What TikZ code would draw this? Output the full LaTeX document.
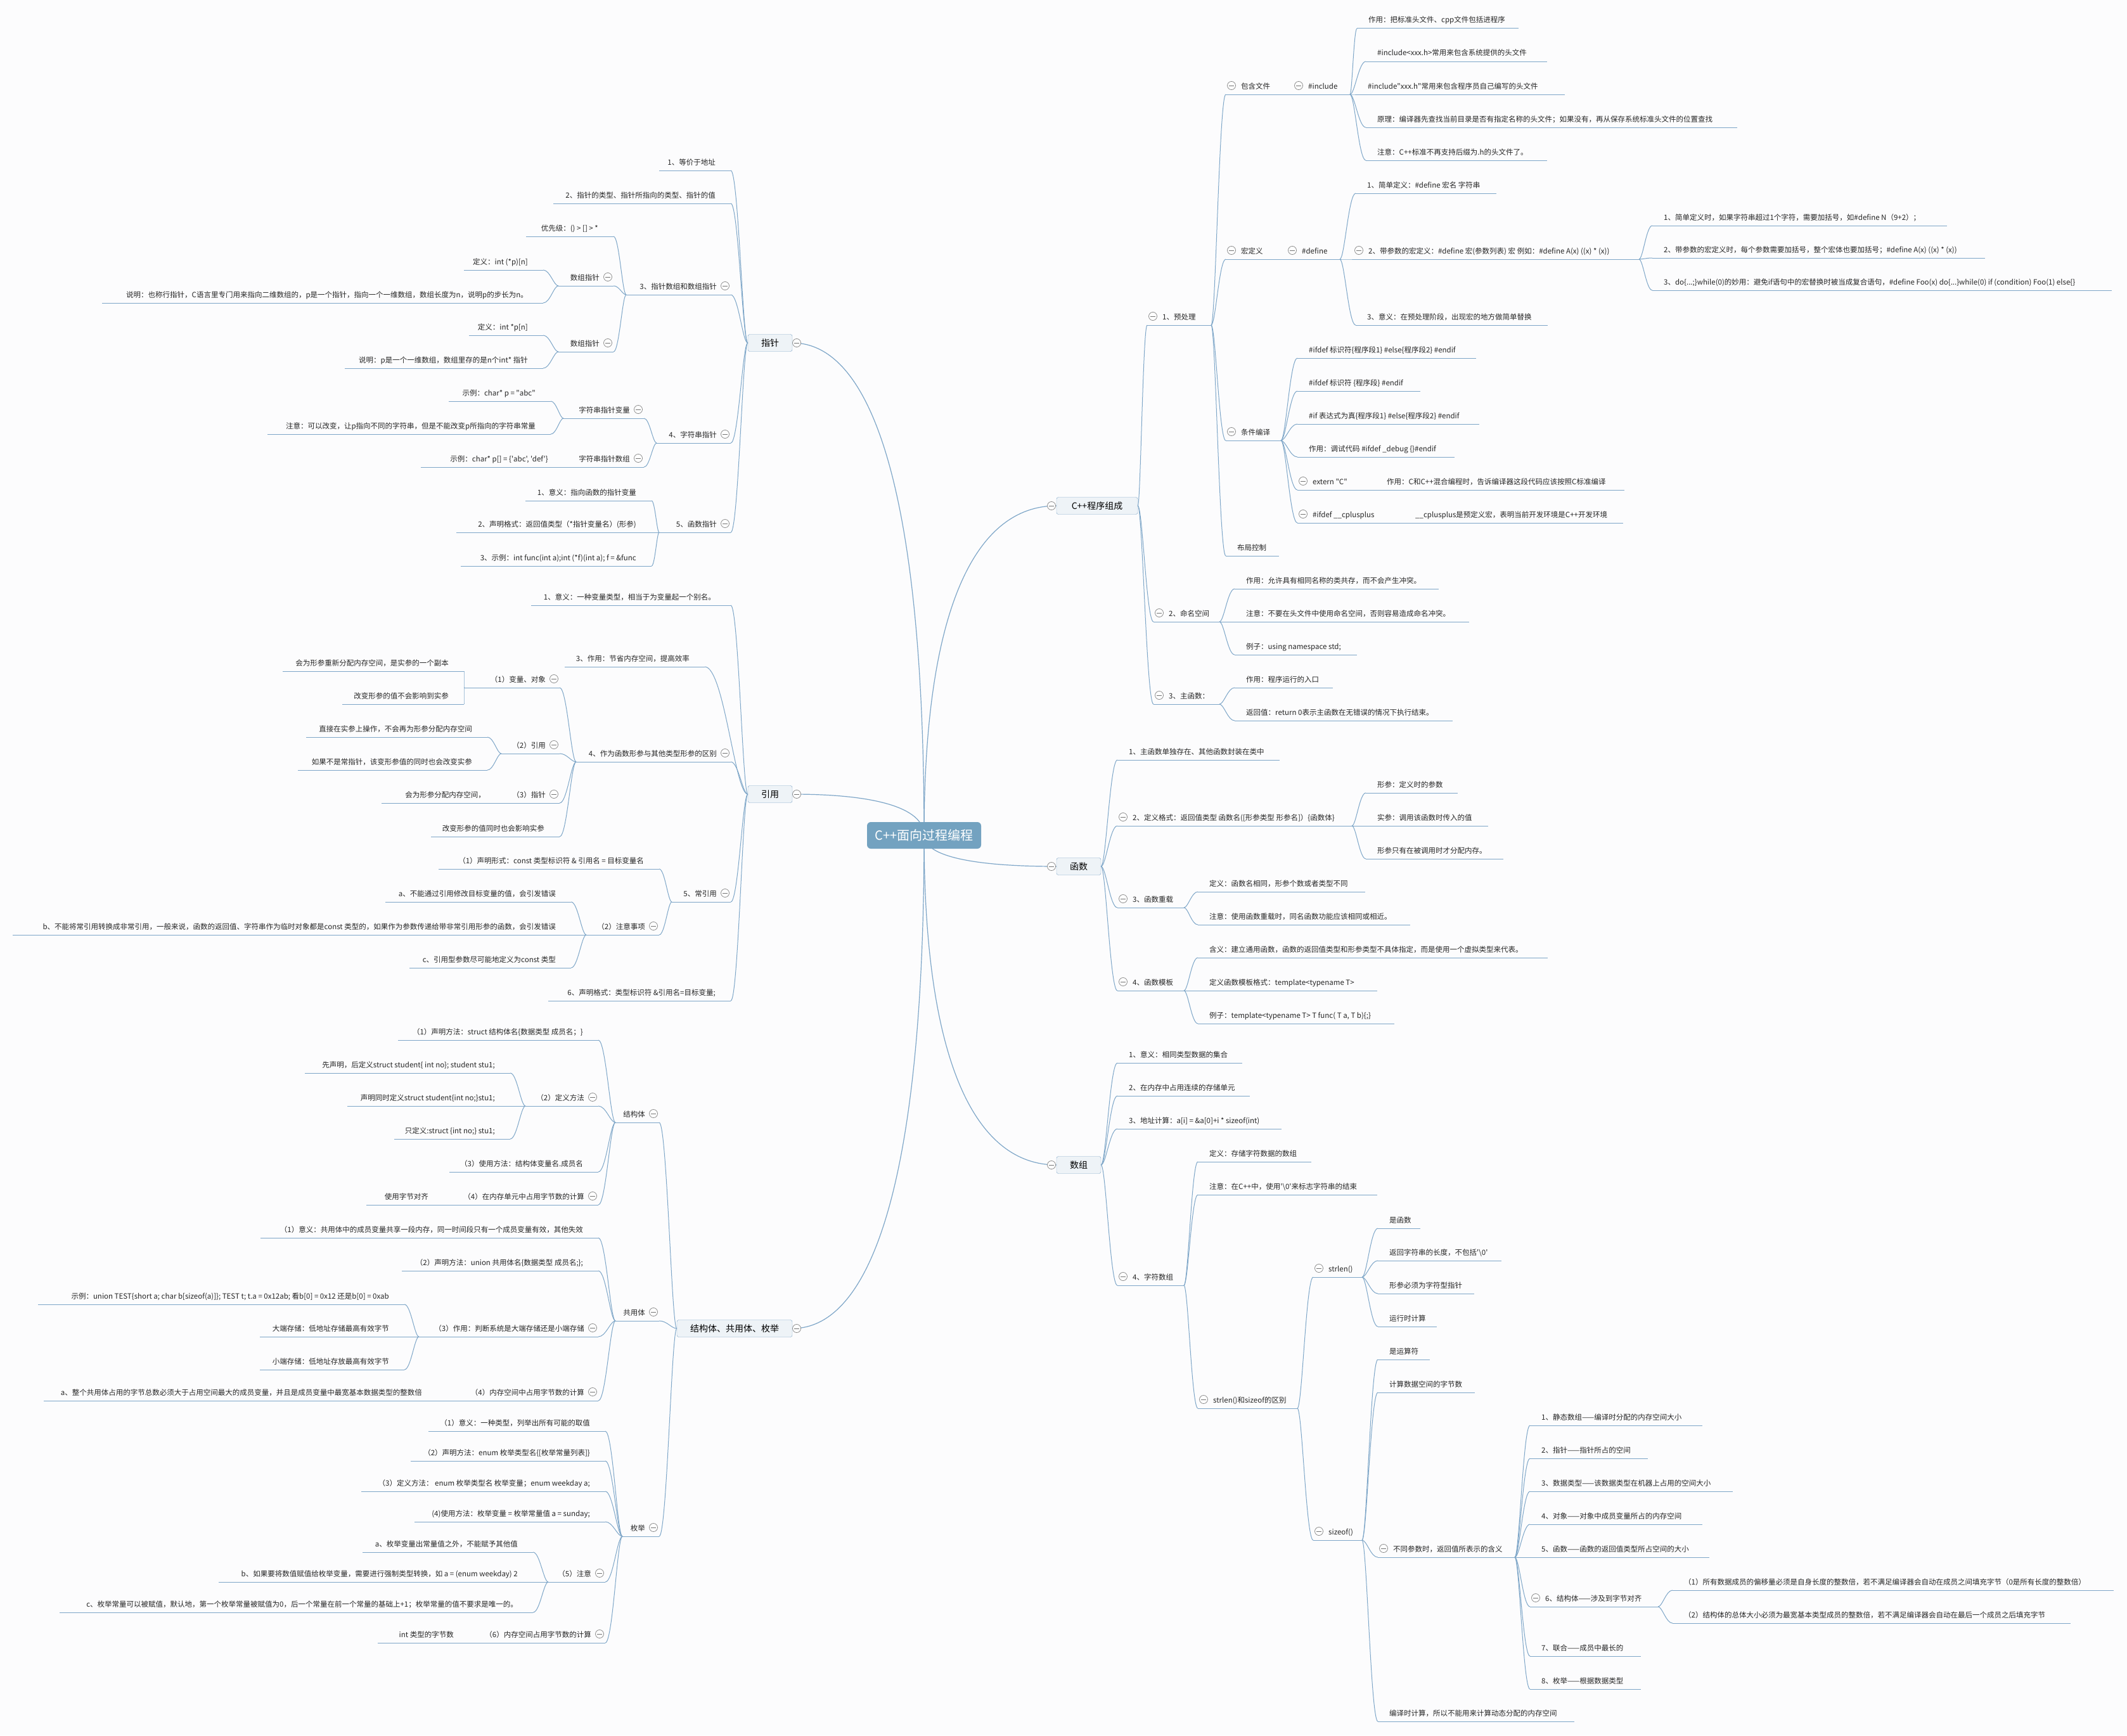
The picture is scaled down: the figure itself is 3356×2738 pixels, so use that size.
\documentclass[tikz,border=0pt]{standalone}
\usepackage{fontspec}
\setmainfont{Noto Sans CJK SC}[Ligatures=TeXOff]
\usetikzlibrary{calc,backgrounds}
\definecolor{lc}{HTML}{7EA6C8}
\definecolor{bxf}{HTML}{EEF3F7}
\definecolor{rootf}{HTML}{73A2C0}
\definecolor{bgc}{HTML}{FCFCFD}
\tikzset{
  ul/.style={lc,line width=1pt},
  cl/.style={lc,line width=1pt},
  tx/.style={inner sep=0pt,font=\fontsize{11.5}{13}\selectfont,text=black!85},
  bx/.style={draw=lc,fill=bxf,rounded corners=3pt,minimum height=27pt,inner xsep=10pt,inner ysep=0pt,font=\fontsize{14}{16}\selectfont},
  mc/.style={draw=black!45,fill=white,line width=0.8pt},
  mcl/.style={black!55,line width=0.8pt},
}
\newcommand\mn[2]{\draw[mc] (#1,#2) circle[radius=6.5]; \draw[mcl] (#1-4,#2)--(#1+4,#2);}
\newcommand\RI[5]{\coordinate (#1-l) at (#2,#4);\coordinate (#1-r) at (#3,#4);\draw[ul] (#1-l)--(#1-r);\node[tx,anchor=base west] (#1) at (#2+18,#4-9) {#5};}
\newcommand\RC[5]{\coordinate (#1-l) at (#2,#4);\coordinate (#1-r) at (#3,#4);\draw[ul] (#1-l)--(#1-r);\mn{#2+9}{#4-14}\node[tx,anchor=base west] (#1) at (#2+24,#4-9) {#5};}
\newcommand\LI[5]{\coordinate (#1-l) at (#2,#4);\coordinate (#1-r) at (#3,#4);\draw[ul] (#1-l)--(#1-r);\node[tx,anchor=base east] (#1) at (#3-24,#4-9) {#5};}
\newcommand\LC[5]{\coordinate (#1-l) at (#2,#4);\coordinate (#1-r) at (#3,#4);\draw[ul] (#1-l)--(#1-r);\mn{#3-9}{#4-14}\node[tx,anchor=base east] (#1) at (#3-22,#4-9) {#5};}
\newcommand\cn[2]{\draw[cl] (#1) .. controls ($(#1)!0.3!(#1-|#2)$) and ($(#2)!0.45!(#2-|#1)$) .. (#2);}
\newcommand\rcn[2]{\draw[cl,line width=1.2pt] (#1) .. controls ($(#1)!0.7!(#1|-#2)$) and ($(#2)!0.6!(#2-|#1)$) .. (#2);}
\begin{document}
\begin{tikzpicture}[x=1pt,y=-1pt]
\begin{pgfonlayer}{background}
\fill[bgc] (0,0) rectangle (3356,2738);
\end{pgfonlayer}
\useasboundingbox (0,0) rectangle (3356,2738);
% root
\node[fill=rootf,rounded corners=6pt,minimum width=180pt,minimum height=42pt,text=white,font=\fontsize{20}{22}\selectfont] (root) at (1458,1318) {C++面向过程编程};
% main boxes
\node[bx,minimum width=70pt] (zz) at (1215,541) {指针};
\node[bx,minimum width=70pt] (yy) at (1215,1253) {引用};
\node[bx,minimum width=182pt] (ss) at (1159,2096) {结构体、共用体、枚举};
\node[bx,minimum width=128pt] (cc) at (1731,798) {C++程序组成};
\node[bx,minimum width=70pt] (ff) at (1702,1367) {函数};
\node[bx,minimum width=70pt] (aa) at (1702,1838) {数组};
\begin{pgfonlayer}{background}
\rcn{root.center}{zz.east}
\rcn{root.center}{yy.east}
\rcn{root.center}{ss.east}
\rcn{root.center}{cc.west}
\rcn{root.center}{ff.west}
\rcn{root.center}{aa.west}
\end{pgfonlayer}
\mn{1257}{541}\mn{1257}{1253}\mn{1257}{2096}\mn{1659}{798}\mn{1659}{1367}\mn{1659}{1838}
% ===== 指针
\LI{p1}{1040}{1153}{269}{1、等价于地址}
\LI{p2}{873}{1153}{321}{2、指针的类型、指针所指向的类型、指针的值}
\LC{p3}{988}{1153}{465}{3、指针数组和数组指针}
\LI{p31}{830}{968}{373}{优先级：() > [] > *}
\LC{p32}{881}{968}{451}{数组指针}
\LI{p321}{732}{857}{426}{定义：int (*p)[n]}
\LI{p322}{161}{857}{478}{说明：也称行指针，C语言里专门用来指向二维数组的，p是一个指针，指向一个一维数组，数组长度为n，说明p的步长为n。}
\LC{p33}{881}{968}{555}{数组指针}
\LI{p331}{740}{857}{529}{定义：int *p[n]}
\LI{p332}{544}{857}{581}{说明：p是一个一维数组，数组里存的是n个int* 指针}
\LC{p4}{1036}{1153}{699}{4、字符串指针}
\LC{p41}{889}{1016}{660}{字符串指针变量}
\LI{p411}{708}{869}{633}{示例：char* p = "abc"}
\LI{p412}{422}{869}{685}{注意：可以改变，让p指向不同的字符串，但是不能改变p所指向的字符串常量}
\LC{p42}{889}{1016}{737}{字符串指针数组}
\LI{p421}{664}{889}{737}{示例：char* p[] = \{'abc', 'def'\}}
\LC{p5}{1040}{1153}{840}{5、函数指针}
\LI{p51}{829}{1028}{790}{1、意义：指向函数的指针变量}
\LI{p52}{720}{1028}{840}{2、声明格式：返回值类型（*指针变量名）(形参)}
\LI{p53}{727}{1028}{893}{3、示例：int func(int a);int (*f)(int a); f = \&func}
\foreach \c in {p1,p2,p3,p4,p5}{\cn{zz.west}{\c-r}}
\foreach \c in {p31,p32,p33}{\cn{p3-l}{\c-r}}
\foreach \c in {p321,p322}{\cn{p32-l}{\c-r}}
\foreach \c in {p331,p332}{\cn{p33-l}{\c-r}}
\foreach \c in {p41,p42}{\cn{p4-l}{\c-r}}
\foreach \c in {p411,p412}{\cn{p41-l}{\c-r}}
\foreach \c in {p51,p52,p53}{\cn{p5-l}{\c-r}}
% ===== 引用
\LI{r1}{838}{1153}{955}{1、意义：一种变量类型，相当于为变量起一个别名。}
\LI{r3}{891}{1112}{1052}{3、作用：节省内存空间，提高效率}
\LC{r4}{909}{1153}{1202}{4、作为函数形参与其他类型形参的区别}
\LC{r41}{732}{883}{1085}{（1）变量、对象}
\LI{r411}{446}{732}{1059}{会为形参重新分配内存空间，是实参的一个副本}
\LI{r412}{540}{732}{1111}{改变形参的值不会影响到实参}
\LC{r42}{791}{883}{1189}{（2）引用}
\LI{r421}{483}{769}{1163}{直接在实参上操作，不会再为形参分配内存空间}
\LI{r422}{470}{769}{1215}{如果不是常指针，该变形参值的同时也会改变实参}
\LC{r43}{790}{883}{1267}{（3）指针}
\LI{r431}{602}{790}{1267}{会为形参分配内存空间，}
\LI{r44}{680}{883}{1320}{改变形参的值同时也会影响实参}
\LC{r5}{1060}{1153}{1423}{5、常引用}
\LI{r51}{692}{1040}{1371}{（1）声明形式：const 类型标识符 \& 引用名 = 目标变量名}
\LC{r52}{925}{1040}{1475}{（2）注意事项}
\LI{r521}{608}{901}{1423}{a、不能通过引用修改目标变量的值，会引发错误}
\LI{r522}{20}{901}{1475}{b、不能将常引用转换成非常引用，一般来说，函数的返回值、字符串作为临时对象都是const 类型的，如果作为参数传递给带非常引用形参的函数，会引发错误}
\LI{r523}{646}{901}{1527}{c、引用型参数尽可能地定义为const 类型}
\LI{r6}{865}{1153}{1579}{6、声明格式：类型标识符 \&引用名=目标变量;}
\foreach \c in {r1,r3,r4,r5,r6}{\cn{yy.west}{\c-r}}
\foreach \c in {r41,r42,r43,r44}{\cn{r4-l}{\c-r}}
\foreach \c in {r411,r412}{\cn{r41-l}{\c-r}}
\foreach \c in {r421,r422}{\cn{r42-l}{\c-r}}
\foreach \c in {r51,r52}{\cn{r5-l}{\c-r}}
\foreach \c in {r521,r522,r523}{\cn{r52-l}{\c-r}}
% ===== 结构体、共用体、枚举
\LC{s1}{971}{1040}{1771}{结构体}
\LI{s11}{628}{944}{1641}{（1）声明方法：struct 结构体名\{数据类型 成员名；\}}
\LC{s12}{829}{944}{1745}{（2）定义方法}
\LI{s121}{481}{805}{1693}{先声明，后定义struct student\{ int no\}; student stu1;}
\LI{s122}{548}{805}{1745}{声明同时定义struct student\{int no;\}stu1;}
\LI{s123}{622}{805}{1797}{只定义:struct \{int no;\} stu1;}
\LI{s13}{709}{944}{1849}{（3）使用方法：结构体变量名.成员名}
\LC{s14}{700}{944}{1901}{（4）在内存单元中占用字节数的计算}
\LI{s141}{578}{700}{1901}{使用字节对齐}
\LC{s2}{971}{1040}{2084}{共用体}
\LI{s21}{411}{944}{1953}{（1）意义：共用体中的成员变量共享一段内存，同一时间段只有一个成员变量有效，其他失效}
\LI{s22}{634}{944}{2005}{（2）声明方法：union 共用体名\{数据类型 成员名;\};}
\LC{s23}{661}{944}{2109}{（3）作用：判断系统是大端存储还是小端存储}
\LI{s231}{60}{638}{2058}{示例：union TEST\{short a; char b[sizeof(a)]\}; TEST t; t.a = 0x12ab; 看b[0] = 0x12 还是b[0] = 0xab}
\LI{s232}{410}{638}{2109}{大端存储：低地址存储最高有效字节}
\LI{s233}{410}{638}{2161}{小端存储：低地址存放最高有效字节}
\LC{s24}{690}{944}{2210}{（4）内存空间中占用字节数的计算}
\LI{s241}{69}{690}{2210}{a、整个共用体占用的字节总数必须大于占用空间最大的成员变量，并且是成员变量中最宽基本数据类型的整数倍}
\LC{s3}{982}{1040}{2424}{枚举}
\LI{s31}{676}{955}{2258}{（1）意义：一种类型，列举出所有可能的取值}
\LI{s32}{648}{955}{2305}{（2）声明方法：enum 枚举类型名\{[枚举常量列表]\}}
\LI{s33}{570}{955}{2353}{（3）定义方法： enum 枚举类型名 枚举变量；enum weekday a;}
\LI{s34}{654}{955}{2401}{(4)使用方法：枚举变量 = 枚举常量值 a = sunday;}
\LC{s35}{865}{955}{2496}{（5）注意}
\LI{s351}{572}{841}{2449}{a、枚举变量出常量值之外，不能赋予其他值}
\LI{s352}{345}{841}{2496}{b、如果要将数值赋值给枚举变量，需要进行强制类型转换，如 a = (enum weekday) 2}
\LI{s353}{94}{841}{2544}{c、枚举常量可以被赋值，默认地，第一个枚举常量被赋值为0，后一个常量在前一个常量的基础上+1；枚举常量的值不要求是唯一的。}
\LC{s36}{740}{955}{2592}{（6）内存空间占用字节数的计算}
\LI{s361}{596}{740}{2592}{int 类型的字节数}
\foreach \c in {s1,s2,s3}{\cn{ss.west}{\c-r}}
\foreach \c in {s11,s12,s13,s14}{\cn{s1-l}{\c-r}}
\foreach \c in {s121,s122,s123}{\cn{s12-l}{\c-r}}
\foreach \c in {s21,s22,s23,s24}{\cn{s2-l}{\c-r}}
\foreach \c in {s231,s232,s233}{\cn{s23-l}{\c-r}}
\foreach \c in {s31,s32,s33,s34,s35,s36}{\cn{s3-l}{\c-r}}
\foreach \c in {s351,s352,s353}{\cn{s35-l}{\c-r}}
% ===== C++程序组成
\RC{c1}{1810}{1911}{513}{1、预处理}
\RC{c11}{1934}{2040}{149}{包含文件}
\RC{c111}{2040}{2130}{149}{\#include}
\RI{c1111}{2141}{2396}{45}{作用：把标准头文件、cpp文件包括进程序}
\RI{c1112}{2155}{2441}{97}{\#include<xxx.h>常用来包含系统提供的头文件}
\RI{c1113}{2140}{2469}{149}{\#include"xxx.h"常用来包含程序员自己编写的头文件}
\RI{c1114}{2155}{2741}{201}{原理：编译器先查找当前目录是否有指定名称的头文件；如果没有，再从保存系统标准头文件的位置查找}
\RI{c1115}{2155}{2441}{253}{注意：C++标准不再支持后缀为.h的头文件了。}
\RC{c12}{1934}{2030}{409}{宏定义}
\RC{c121}{2030}{2114}{409}{\#define}
\RI{c1211}{2139}{2361}{305}{1、简单定义：\#define 宏名 字符串}
\RC{c1212}{2135}{2586}{409}{2、带参数的宏定义：\#define 宏(参数列表) 宏 例如：\#define A(x) ((x) * (x))}
\RI{c12121}{2607}{3072}{356}{1、简单定义时，如果字符串超过1个字符，需要加括号，如\#define N（9+2）；}
\RI{c12122}{2607}{3132}{407}{2、带参数的宏定义时，每个参数需要加括号，整个宏体也要加括号；\#define A(x) ((x) * (x))}
\RI{c12123}{2607}{3332}{458}{3、do\{...;\}while(0)的妙用：避免if语句中的宏替换时被当成复合语句，\#define Foo(x) do\{...\}while(0) if (condition) Foo(1) else\{\}}
\RI{c1213}{2139}{2442}{513}{3、意义：在预处理阶段，出现宏的地方做简单替换}
\RC{c13}{1934}{2021}{695}{条件编译}
\RI{c131}{2047}{2329}{565}{\#ifdef 标识符\{程序段1\} \#else\{程序段2\} \#endif}
\RI{c132}{2047}{2241}{617}{\#ifdef 标识符 \{程序段\} \#endif}
\RI{c133}{2047}{2334}{669}{\#if 表达式为真\{程序段1\} \#else\{程序段2\} \#endif}
\RI{c134}{2047}{2295}{721}{作用：调试代码 \#ifdef \_debug \{\}\#endif}
\RC{c135}{2047}{2170}{773}{extern "C"}
\RI{c1351}{2170}{2563}{773}{作用：C和C++混合编程时，告诉编译器这段代码应该按照C标准编译}
\RC{c136}{2047}{2215}{825}{\#ifdef \_\_cplusplus}
\RI{c1361}{2215}{2561}{825}{\_\_cplusplus是预定义宏，表明当前开发环境是C++开发环境}
\RI{c14}{1934}{2018}{877}{布局控制}
\RC{c2}{1820}{1924}{981}{2、命名空间}
\RI{c21}{1948}{2270}{929}{作用：允许具有相同名称的类共存，而不会产生冲突。}
\RI{c22}{1948}{2318}{981}{注意：不要在头文件中使用命名空间，否则容易造成命名冲突。}
\RI{c23}{1948}{2141}{1033}{例子：using namespace std;}
\RC{c3}{1820}{1924}{1111}{3、主函数：}
\RI{c31}{1948}{2103}{1085}{作用：程序运行的入口}
\RI{c32}{1948}{2292}{1137}{返回值：return 0表示主函数在无错误的情况下执行结束。}
\foreach \c in {c1,c2,c3}{\cn{cc.east}{\c-l}}
\foreach \c in {c11,c12,c13,c14}{\cn{c1-r}{\c-l}}
\foreach \c in {c1111,c1112,c1113,c1114,c1115}{\cn{c111-r}{\c-l}}
\foreach \c in {c1211,c1212,c1213}{\cn{c121-r}{\c-l}}
\foreach \c in {c12121,c12122,c12123}{\cn{c1212-r}{\c-l}}
\foreach \c in {c131,c132,c133,c134,c135,c136}{\cn{c13-r}{\c-l}}
\foreach \c in {c21,c22,c23}{\cn{c2-r}{\c-l}}
\foreach \c in {c31,c32}{\cn{c3-r}{\c-l}}
% ===== 函数
\RI{f1}{1763}{2019}{1199}{1、主函数单独存在、其他函数封装在类中}
\RC{f2}{1763}{2133}{1303}{2、定义格式：返回值类型 函数名([形参类型 形参名]）\{函数体\}}
\RI{f21}{2155}{2300}{1251}{形参：定义时的参数}
\RI{f22}{2155}{2348}{1303}{实参：调用该函数时传入的值}
\RI{f23}{2155}{2372}{1355}{形参只有在被调用时才分配内存。}
\RC{f3}{1763}{1868}{1432}{3、函数重载}
\RI{f31}{1890}{2154}{1407}{定义：函数名相同，形参个数或者类型不同}
\RI{f32}{1890}{2225}{1459}{注意：使用函数重载时，同名函数功能应该相同或相近。}
\RC{f4}{1763}{1868}{1563}{4、函数模板}
\RI{f41}{1890}{2442}{1511}{含义：建立通用函数，函数的返回值类型和形参类型不具体指定，而是使用一个虚拟类型来代表。}
\RI{f42}{1890}{2173}{1563}{定义函数模板格式：template<typename T>}
\RI{f43}{1890}{2200}{1615}{例子：template<typename T> T func( T a, T b)\{;\}}
\foreach \c in {f1,f2,f3,f4}{\cn{ff.east}{\c-l}}
\foreach \c in {f21,f22,f23}{\cn{f2-r}{\c-l}}
\foreach \c in {f31,f32}{\cn{f3-r}{\c-l}}
\foreach \c in {f41,f42,f43}{\cn{f4-r}{\c-l}}
% ===== 数组
\RI{a1}{1763}{1960}{1677}{1、意义：相同类型数据的集合}
\RI{a2}{1763}{1972}{1729}{2、在内存中占用连续的存储单元}
\RI{a3}{1763}{2022}{1781}{3、地址计算：a[i] = \&a[0]+i * sizeof(int)}
\RC{a4}{1763}{1868}{2028}{4、字符数组}
\RI{a41}{1890}{2069}{1833}{定义：存储字符数据的数组}
\RI{a42}{1890}{2173}{1885}{注意：在C++中，使用'\textbackslash 0'来标志字符串的结束}
\RC{a43}{1890}{2047}{2222}{strlen()和sizeof的区别}
\RC{a431}{2072}{2149}{2015}{strlen()}
\RI{a4311}{2174}{2241}{1938}{是函数}
\RI{a4312}{2174}{2369}{1989}{返回字符串的长度，不包括'\textbackslash 0'}
\RI{a4313}{2174}{2326}{2041}{形参必须为字符型指针}
\RI{a4314}{2174}{2267}{2093}{运行时计算}
\RC{a432}{2072}{2149}{2430}{sizeof()}
\RI{a4321}{2174}{2256}{2145}{是运算符}
\RI{a4322}{2174}{2327}{2197}{计算数据空间的字节数}
\RC{a4323}{2174}{2390}{2457}{不同参数时，返回值所表示的含义}
\RI{b1}{2414}{2686}{2249}{1、静态数组——编译时分配的内存空间大小}
\RI{b2}{2414}{2600}{2301}{2、指针——指针所占的空间}
\RI{b3}{2414}{2734}{2353}{3、数据类型——该数据类型在机器上占用的空间大小}
\RI{b4}{2414}{2686}{2405}{4、对象——对象中成员变量所占的内存空间}
\RI{b5}{2414}{2697}{2457}{5、函数——函数的返回值类型所占空间的大小}
\RC{b6}{2414}{2616}{2535}{6、结构体——涉及到字节对齐}
\RI{b61}{2639}{3335}{2509}{（1）所有数据成员的偏移量必须是自身长度的整数倍，若不满足编译器会自动在成员之间填充字节（0是所有长度的整数倍）}
\RI{b62}{2639}{3267}{2561}{（2）结构体的总体大小必须为最宽基本类型成员的整数倍，若不满足编译器会自动在最后一个成员之后填充字节}
\RI{b7}{2414}{2589}{2613}{7、联合——成员中最长的}
\RI{b8}{2414}{2589}{2665}{8、枚举——根据数据类型}
\RI{a4324}{2174}{2484}{2716}{编译时计算，所以不能用来计算动态分配的内存空间}
\foreach \c in {a1,a2,a3,a4}{\cn{aa.east}{\c-l}}
\foreach \c in {a41,a42,a43}{\cn{a4-r}{\c-l}}
\foreach \c in {a431,a432}{\cn{a43-r}{\c-l}}
\foreach \c in {a4311,a4312,a4313,a4314}{\cn{a431-r}{\c-l}}
\foreach \c in {a4321,a4322,a4323,a4324}{\cn{a432-r}{\c-l}}
\foreach \c in {b1,b2,b3,b4,b5,b6,b7,b8}{\cn{a4323-r}{\c-l}}
\foreach \c in {b61,b62}{\cn{b6-r}{\c-l}}
\end{tikzpicture}
\end{document}
